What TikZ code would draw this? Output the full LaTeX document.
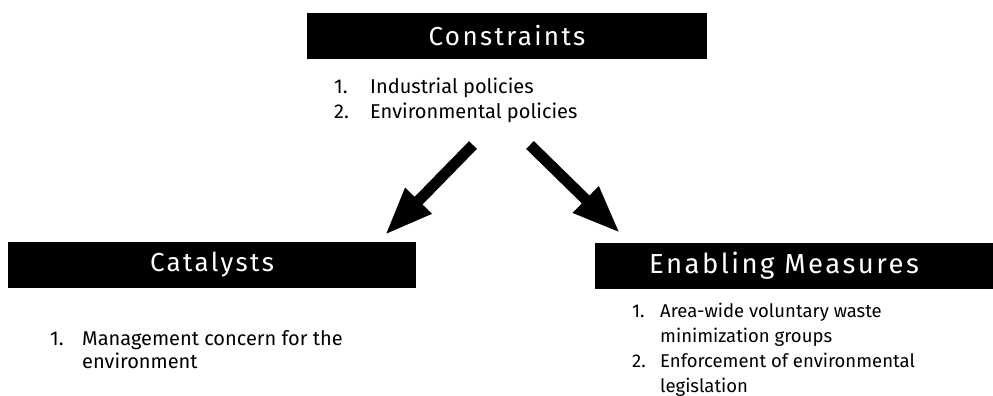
\documentclass[tikz,border=0pt]{standalone}
\usepackage{fontspec}
\setmainfont{Fira Sans}
\newfontfamily\headfont[LetterSpace=9]{Fira Sans}
\usetikzlibrary{arrows.meta}
\newcommand{\lnum}[2][32pt]{\makebox[#1][l]{#2}}
\tikzset{
	head/.style={fill=black,text=white,minimum height=46pt,inner sep=0pt,font=\headfont\fontsize{26}{30}\selectfont},
	items/.style={anchor=base west,align=left,inner sep=0pt,font=\fontsize{20}{25}\selectfont},
	bigarrow/.style={line width=11pt,-{Triangle[length=48pt,width=34pt]}}
}

\begin{document}
\begin{tikzpicture}[x=1pt,y=-1pt]
			\useasboundingbox (0,0) rectangle (993,396);
			\coordinate (l0) at (473,145);
			\coordinate (l1) at (385,235);
			\coordinate (r0) at (530,145);
			\coordinate (r1) at (620,233);
			
			\node[head,minimum width=400pt] (cons) at (507,36) {Constraints};
			\node[head,minimum width=408pt] (cat) at (212,264.5) {Catalysts};
			\node[head,minimum width=398pt] (enab) at (794,265.5) {\fontsize{27.5}{30}\selectfont Enabling Measures\hspace*{20pt}};
			
			% base anchor sits on the last line
			\node[items] (consl) at (334,118) {\lnum[36pt]{1.}Industrial policies\\\lnum[36pt]{2.}Environmental policies};
			\node[items,font=\fontsize{20}{23}\selectfont] (catl) at (50,368) {\lnum{1.}Management concern for the\\\lnum{}environment};
			\node[items,font=\fontsize{18.5}{24.7}\selectfont] (enabl) at (632,392) {\lnum[28pt]{1.}Area-wide voluntary waste\\\lnum[28pt]{}minimization groups\\\lnum[28pt]{2.}Enforcement of environmental\\\lnum[28pt]{}legislation};
			
			\draw[bigarrow] (l0) -- (l1);
			\draw[bigarrow] (r0) -- (r1);
		\end{tikzpicture}
\end{document}
